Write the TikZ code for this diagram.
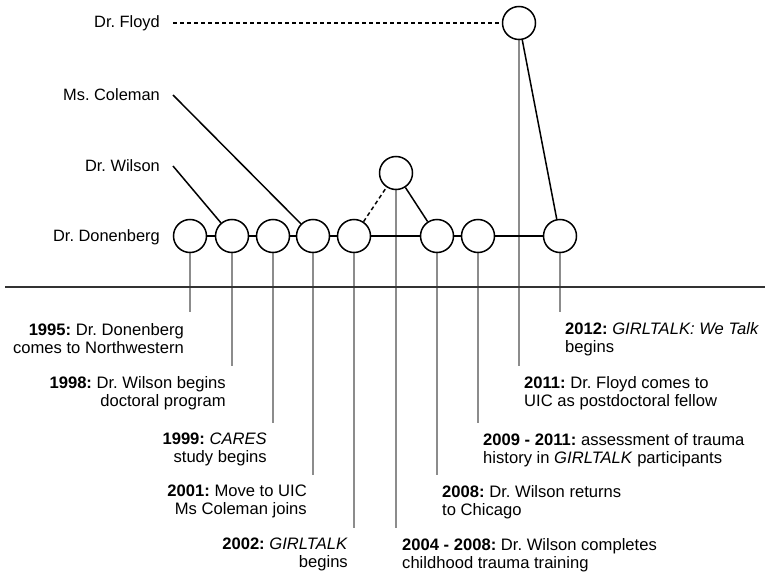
\documentclass[tikz,border=0pt]{standalone}
\usepackage{fontspec}
\setmainfont{Liberation Sans}
\frenchspacing

\begin{document}
\begin{tikzpicture}[
            x=1pt, y=-1pt,
            event/.style={circle, draw=black, line width=1.5pt, fill=white, minimum size=33pt, inner sep=0pt},
            person/.style={anchor=east, inner sep=0pt, font=\fontsize{16.4}{18}\selectfont},
            tie/.style={line width=1.5pt, black},
            stem/.style={line width=1.6pt, black!45},
            noteleft/.style={anchor=north east, align=right, inner sep=0pt, font=\fontsize{16.6}{18}\selectfont},
            noteright/.style={anchor=north west, align=left, inner sep=0pt, font=\fontsize{16.6}{18}\selectfont},
        ]
            \useasboundingbox (0, 0) rectangle (765, 575);

            \node[person] (floyd) at (160, 23) {Dr. Floyd};
            \node[person] (coleman) at (160, 95) {Ms. Coleman};
            \node[person] (wilson) at (160, 166) {Dr. Wilson};
            \node[person] (donenberg) at (160, 237) {Dr. Donenberg};

            \coordinate (e95) at (190, 312);
            \coordinate (e98) at (232, 366);
            \coordinate (e99) at (273, 423);
            \coordinate (e01) at (313, 475);
            \coordinate (e02) at (354, 528);
            \coordinate (e04) at (396, 528);
            \coordinate (e08) at (437, 475);
            \coordinate (e09) at (478, 423);
            \coordinate (e11) at (519, 366);
            \coordinate (e12) at (560, 312);

            \draw[stem] (190, 236) -- (e95);
            \draw[stem] (232, 236) -- (e98);
            \draw[stem] (273, 236) -- (e99);
            \draw[stem] (313, 236) -- (e01);
            \draw[stem] (354, 236) -- (e02);
            \draw[stem] (396, 173) -- (e04);
            \draw[stem] (437, 236) -- (e08);
            \draw[stem] (478, 236) -- (e09);
            \draw[stem] (519, 23) -- (e11);
            \draw[stem] (560, 236) -- (e12);

            \draw[line width=1.9pt, black!80] (5, 287) -- (765, 287);

            \node[event] (c95) at (190, 236) {};
            \node[event] (c98) at (232, 236) {};
            \node[event] (c99) at (273, 236) {};
            \node[event] (c01) at (313, 236) {};
            \node[event] (c02) at (354, 236) {};
            \node[event] (c04) at (396, 173) {};
            \node[event] (c08) at (437, 236) {};
            \node[event] (c09) at (478, 236) {};
            \node[event] (c11) at (519, 23) {};
            \node[event] (c12) at (560, 236) {};

            \draw[tie] (c95) -- (c98);
            \draw[tie] (c98) -- (c99);
            \draw[tie] (c99) -- (c01);
            \draw[tie] (c01) -- (c02);
            \draw[tie] (c02) -- (c08);
            \draw[tie] (c08) -- (c09);
            \draw[tie] (c09) -- (c12);
            \draw[tie, dash pattern=on 4pt off 3pt] (c02) -- (c04);
            \draw[tie] (c04) -- (c08);
            \draw[tie] (c11) -- (c12);

            \draw[tie, dash pattern=on 4pt off 3pt] ([xshift=13pt]floyd.east) -- (c11);
            \draw[tie] ([xshift=13pt]coleman.east) -- (c01);
            \draw[tie] ([xshift=13pt]wilson.east) -- (c98);

            \node[noteleft] (t95) at ([shift={(-6, 11)}]e95) {\textbf{1995:} Dr. Donenberg\\comes to Northwestern};
            \node[noteleft] (t98) at ([shift={(-6, 10)}]e98) {\textbf{1998:} Dr. Wilson begins\\doctoral program};
            \node[noteleft] (t99) at ([shift={(-6, 10)}]e99) {\textbf{1999:} \textit{CARES}\\study begins};
            \node[noteleft] (t01) at ([shift={(-6, 10)}]e01) {\textbf{2001:} Move to UIC\\Ms Coleman joins};
            \node[noteleft] (t02) at ([shift={(-6, 10)}]e02) {\textbf{2002:} \textit{GIRLTALK}\\begins};

            \node[noteright] (t12) at ([shift={(5, 10)}]e12) {\textbf{2012:} \textit{GIRLTALK: We Talk}\\begins};
            \node[noteright] (t11) at ([shift={(5, 10)}]e11) {\textbf{2011:} Dr. Floyd comes to\\UIC as postdoctoral fellow};
            \node[noteright] (t09) at ([shift={(5, 10)}]e09) {\textbf{2009 - 2011:} assessment of trauma\\history in \textit{GIRLTALK} participants};
            \node[noteright] (t08) at ([shift={(5, 10)}]e08) {\textbf{2008:} Dr. Wilson returns\\to Chicago};
            \node[noteright] (t04) at ([shift={(6, 10)}]e04) {\textbf{2004 - 2008:} Dr. Wilson completes\\childhood trauma training};
        \end{tikzpicture}
\end{document}
